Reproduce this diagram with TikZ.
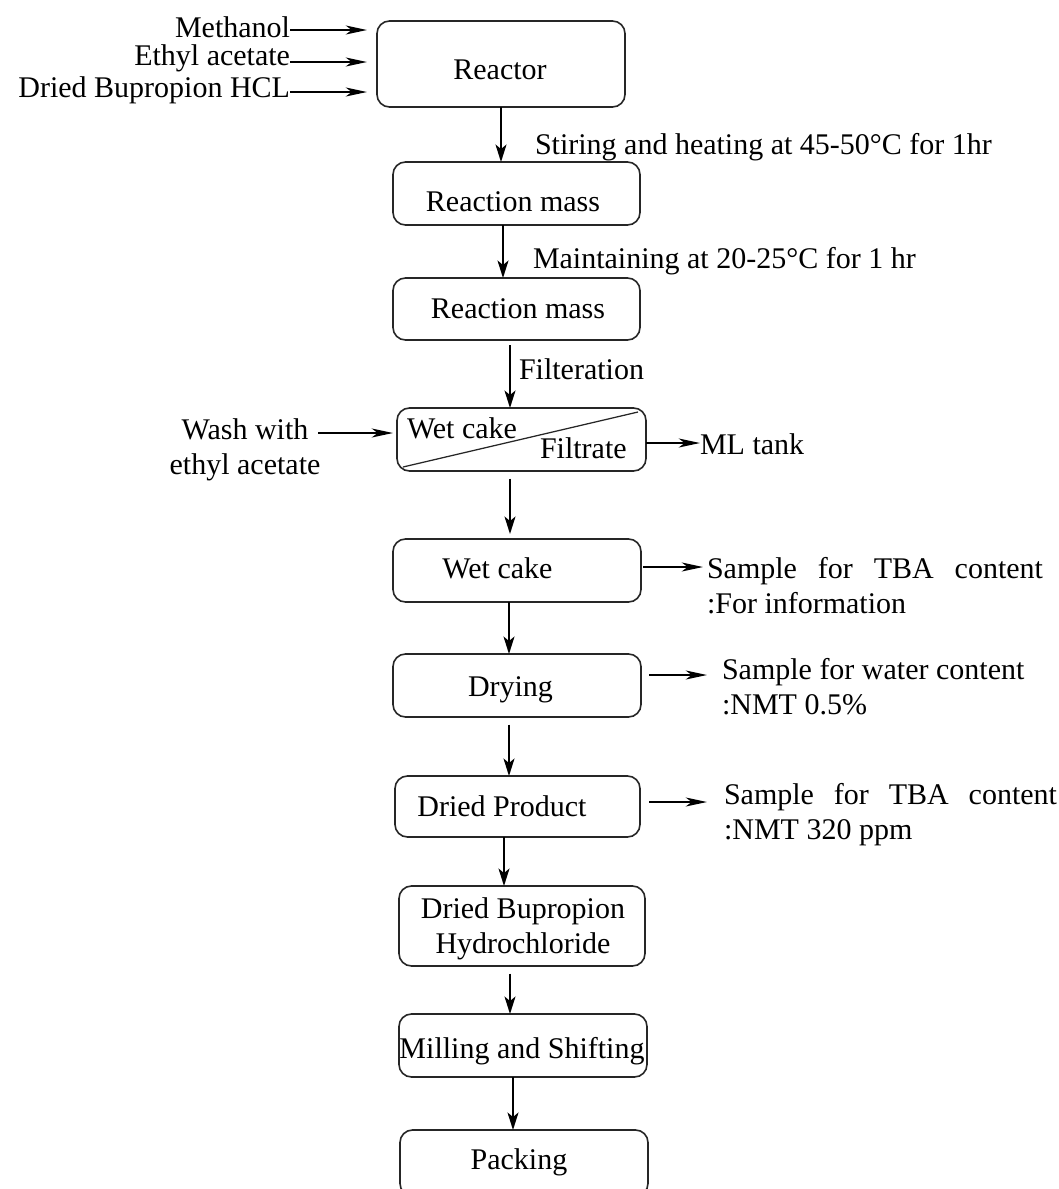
\documentclass[tikz,border=0pt]{standalone}
\usepackage{fontspec}
\setmainfont{Liberation Serif}
\usetikzlibrary{arrows.meta}

\begin{document}
\begin{tikzpicture}[x=0.4pt,y=-0.4pt,
  every node/.style={font=\fontsize{12}{14}\selectfont, inner sep=0pt, outer sep=0pt},
  stage/.style={draw=black!85, line width=0.65pt, rounded corners=5pt},
  txt/.style={anchor=base},
  note/.style={anchor=north west, align=left},
  flow/.style={draw=black, line width=0.75pt, -{Stealth[length=7pt,width=4.4pt,inset=1.8pt]}},
  feed/.style={draw=black, line width=0.75pt, -{Stealth[length=8.5pt,width=3.6pt,inset=2.4pt]}},
]
\useasboundingbox (0,0) rectangle (1059,1189);
\clip (0,0) rectangle (1059,1189);

% ---------- process stages ----------
\node[stage, minimum width=99.2pt, minimum height=34.4pt] (reactor) at (501,64) {};
\node[stage, minimum width=98.8pt, minimum height=25.2pt] (rm1) at (516.5,193.5) {};
\node[stage, minimum width=98.8pt, minimum height=24.8pt] (rm2) at (516.5,309) {};
\node[stage, minimum width=99.6pt, minimum height=25.2pt] (filt) at (521.5,439.5) {};
\node[stage, minimum width=99.2pt, minimum height=25.2pt] (wet) at (517,570.5) {};
\node[stage, minimum width=99.2pt, minimum height=25.2pt] (dry) at (517,685.5) {};
\node[stage, minimum width=98pt, minimum height=24.4pt] (prod) at (517.5,806.5) {};
\node[stage, minimum width=98.4pt, minimum height=32pt] (dbh) at (522,926) {};
\node[stage, minimum width=99.2pt, minimum height=25.2pt] (mill) at (523,1045.5) {};
\node[stage, minimum width=99.2pt, minimum height=26.4pt] (pack) at (524,1163) {};

% filter split line
\draw[black!85, line width=0.5pt] ([shift={(2.4pt,1.6pt)}]filt.south west) -- ([shift={(-3.2pt,-1.6pt)}]filt.north east);

% ---------- stage texts ----------
\node[txt] (reactor-t) at (500,79) {Reactor};
\node[txt] (rm1-t) at (513,211) {Reaction mass};
\node[txt] (rm2-t) at (518,318) {Reaction mass};
\node[anchor=base west] (filt-cake) at (407,438) {Wet cake};
\node[anchor=base west] (filt-liq) at (540,458) {Filtrate};
\node[txt] (wet-t) at (497.5,578) {Wet cake};
\node[txt] (dry-t) at (510.5,696) {Drying};
\node[txt] (prod-t) at (502,816) {Dried Product};
\node[anchor=north, align=center] (dbh-t) at (523,897.5) {Dried Bupropion\\Hydrochloride};
\node[txt] (mill-t) at (522,1058) {Milling and Shifting};
\node[txt] (pack-t) at (519,1169) {Packing};

% ---------- feeds ----------
\node[anchor=base east] (methanol) at (290,37) {Methanol};
\node[anchor=base east] (etac) at (290,65) {Ethyl acetate};
\node[anchor=base east] (bhcl) at (290,97) {Dried Bupropion HCL};
\node[anchor=north, align=center] (wash) at (245,418.5) {Wash with\\ethyl acetate};

\coordinate (yM) at (0,30);
\coordinate (yE) at (0,62);
\coordinate (yD) at (0,92);
\coordinate (yW) at (0,433);
\draw[feed, shorten >=4pt] (methanol.east |- yM) -- (reactor.west |- yM);
\draw[feed, shorten >=4pt] (etac.east |- yE) -- (reactor.west |- yE);
\draw[feed, shorten >=4pt] (bhcl.east |- yD) -- (reactor.west |- yD);
\draw[feed, shorten <=-0.8pt, shorten >=1.6pt] (wash.east |- yW) -- (filt.west |- yW);

% ---------- step labels ----------
\node[anchor=base west] (stir) at (535,154) {Stiring and heating at 45-50°C for 1hr};
\node[anchor=base west] (maint) at (533,268) {Maintaining at 20-25°C for 1 hr};
\node[anchor=base west] (filtr) at (519,379) {Filteration};

% ---------- main flow ----------
\coordinate (x1) at (501,0);
\coordinate (x2) at (503,0);
\coordinate (x3) at (510,0);
\coordinate (x4) at (510,0);
\coordinate (x5) at (509,0);
\coordinate (x6) at (509,0);
\coordinate (x7) at (504,0);
\coordinate (x8) at (510,0);
\coordinate (x9) at (513,0);
\draw[flow] (reactor.south -| x1) -- (rm1.north -| x1);
\draw[flow] (rm1.south -| x2) -- (rm2.north -| x2);
\draw[flow, shorten <=2pt] (rm2.south -| x3) -- (filt.north -| x3);
\draw[flow, shorten <=3pt] (filt.south -| x4) -- ([yshift=2pt]wet.north -| x4);
\draw[flow] (wet.south -| x5) -- (dry.north -| x5);
\draw[flow, shorten <=3pt] (dry.south -| x6) -- (prod.north -| x6);
\draw[flow] (prod.south -| x7) -- (dbh.north -| x7);
\draw[flow, shorten <=3pt] (dbh.south -| x8) -- (mill.north -| x8);
\draw[flow] (mill.south -| x9) -- (pack.north -| x9);

% ---------- side streams ----------
\node[anchor=base west] (ml) at (700,454) {ML tank};
\node[note] (s1) at (707,557.5) {\makebox[134.4pt][s]{Sample for TBA content}\\:For information};
\node[note] (s2) at (722,658.5) {Sample for water content\\:NMT 0.5\%};
\node[note] (s3) at (724,783.5) {\makebox[133.2pt][s]{Sample for TBA content}\\:NMT 320 ppm};

\coordinate (yL) at (0,443);
\coordinate (y1) at (0,567);
\coordinate (y2) at (0,675);
\coordinate (y3) at (0,802);
\draw[feed] (filt.east |- yL) -- (ml.west |- yL);
\draw[feed, shorten <=0.8pt, shorten >=1.6pt] (wet.east |- y1) -- (s1.west |- y1);
\draw[feed, shorten <=3.2pt, shorten >=6pt] (dry.east |- y2) -- (s2.west |- y2);
\draw[feed, shorten <=3.6pt, shorten >=6.8pt] (prod.east |- y3) -- (s3.west |- y3);
\end{tikzpicture}
\end{document}
